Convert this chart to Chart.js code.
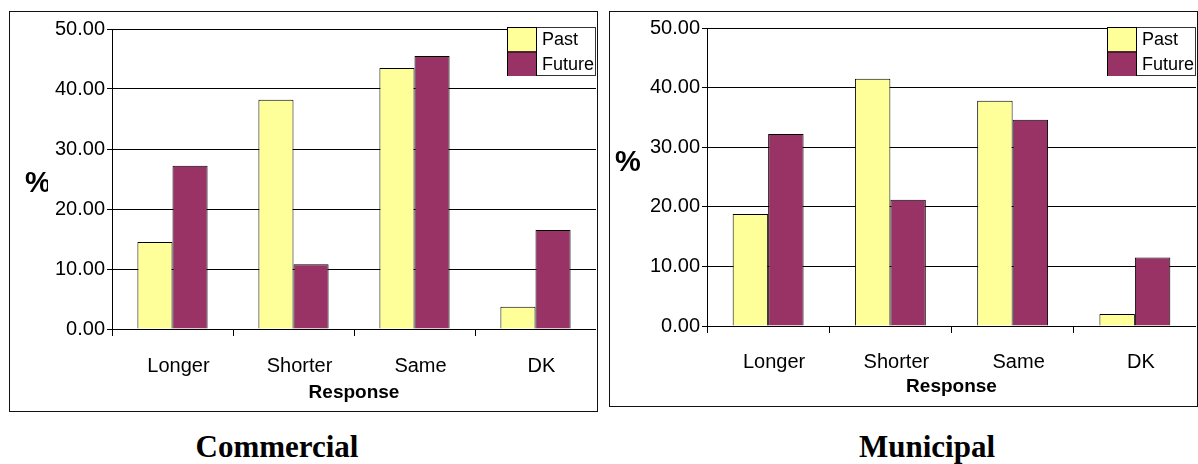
<!DOCTYPE html>
<html>
<head>
<meta charset="utf-8">
<script src="https://cdn.jsdelivr.net/npm/chart.js@4"></script>
<style>
  html, body { margin: 0; padding: 0; background: #fff; }
  body { position: relative; width: 1198px; height: 464px; overflow: hidden; }
  .frame { position: absolute; border: 1px solid #111; box-sizing: border-box; }
  .frame canvas { position: absolute; left: 0; top: 0; }
  .caption {
    position: absolute; width: 300px; top: 431px; text-align: center;
    font: bold 31px 'Liberation Serif', 'Times New Roman', serif; line-height: 31px; color: #000;
  }
</style>
</head>
<body>
<div class="frame" style="left:9px; top:11px; width:589px; height:401px;">
  <canvas id="commercial" width="586" height="399"></canvas>
</div>
<div class="frame" style="left:609px; top:11px; width:589px; height:396px;">
  <canvas id="municipal" width="586" height="394"></canvas>
</div>
<div class="caption" style="left:127px;">Commercial</div>
<div class="caption" style="left:777px;">Municipal</div>

<script>
// data
const categories = ['Longer', 'Shorter', 'Same', 'DK']
const seriesNames = ['Past', 'Future']
const commercialPast = [14.5, 38.2, 43.5, 3.7]
const commercialFuture = [27.2, 10.8, 45.5, 16.5]
const municipalPast = [18.8, 41.5, 37.8, 2.0]
const municipalFuture = [32.2, 21.2, 34.6, 11.5]
const yMin = 0
const yMax = 50
const yStep = 10
const xTitle = 'Response'
const yTitle = '%'

const seriesColors = ['#FFFF99', '#993366']
const sans = "'Liberation Sans', Arial, sans-serif"

// legend box in the top right corner of the plot, swatches stacked
const boxLegend = {
  id: 'boxLegend',
  afterDraw(chart, args, opts) {
    const ctx = chart.ctx
    const sets = chart.data.datasets
    const x0 = chart.chartArea.right - opts.width
    const y0 = opts.top
    const h = opts.rowHeight * sets.length
    ctx.save()
    ctx.fillStyle = '#fff'
    ctx.fillRect(x0, y0, opts.width, h)
    ctx.strokeStyle = '#333'
    ctx.lineWidth = 1
    ctx.strokeRect(x0 + 0.5, y0 + 0.5, opts.width - 1, h - 1)
    ctx.beginPath()
    ctx.rect(x0, y0, opts.width - 1, h)
    ctx.clip()
    sets.forEach((ds, i) => {
      const y = y0 + i * opts.rowHeight
      ctx.fillStyle = ds.backgroundColor
      ctx.fillRect(x0, y, opts.swatch, opts.rowHeight)
      ctx.strokeStyle = '#000'
      ctx.strokeRect(x0 + 0.5, y + 0.5, opts.swatch, opts.rowHeight)
      ctx.fillStyle = '#000'
      ctx.font = '18px ' + sans
      ctx.textBaseline = 'middle'
      ctx.fillText(ds.label, x0 + opts.swatch + 6, y + opts.rowHeight / 2 + 1)
    })
    ctx.restore()
  }
}

// horizontal "%" axis label, may be cut by the tick label area
const percentLabel = {
  id: 'percentLabel',
  afterDraw(chart, args, opts) {
    const ctx = chart.ctx
    ctx.save()
    ctx.beginPath()
    ctx.rect(0, 0, opts.clip, chart.height)
    ctx.clip()
    ctx.fillStyle = '#000'
    ctx.font = 'bold 29px ' + sans
    ctx.textBaseline = 'middle'
    ctx.fillText(yTitle, opts.x, opts.y)
    ctx.restore()
  }
}

function makeChart(id, past, future, o) {
  return new Chart(document.getElementById(id), {
    type: 'bar',
    data: {
      labels: categories,
      datasets: [
        { label: seriesNames[0], data: past, backgroundColor: seriesColors[0], borderColor: '#000', borderWidth: 1 },
        { label: seriesNames[1], data: future, backgroundColor: seriesColors[1], borderColor: '#000', borderWidth: 1 }
      ]
    },
    options: {
      responsive: false,
      animation: false,
      devicePixelRatio: 1,
      layout: { padding: { top: o.top, left: 0, right: 0, bottom: 0 } },
      datasets: {
        bar: {
          categoryPercentage: 0.58,
          barPercentage: 1
        }
      },
      plugins: {
        legend: { display: false },
        tooltip: { enabled: false },
        boxLegend: { width: 89, top: 15, rowHeight: 24.5, swatch: 29 },
        percentLabel: { x: o.pctX, y: o.pctY, clip: o.pctClip }
      },
      scales: {
        x: {
          afterFit: (s) => { s.height = o.xHeight },
          grid: { offset: true, drawOnChartArea: false, drawTicks: true, tickLength: 7, color: '#000' },
          border: { color: '#000', width: 1 },
          ticks: { color: '#000', font: { size: 20, family: sans }, padding: o.labelPad, labelOffset: 6 },
          title: {
            display: true, text: xTitle, color: '#000',
            font: { size: 19, weight: 'bold', family: sans },
            padding: { top: 0, bottom: o.titlePad }
          }
        },
        y: {
          min: yMin,
          max: yMax,
          afterFit: (s) => { s.width = o.yWidth },
          grid: { color: '#000', lineWidth: 1, tickLength: 5, tickColor: '#000' },
          border: { color: '#000', width: 1 },
          ticks: {
            stepSize: yStep,
            color: '#000',
            padding: 2,
            font: { size: 20, family: sans },
            callback: (v) => Number(v).toFixed(2)
          }
        }
      }
    },
    plugins: [boxLegend, percentLabel]
  })
}

makeChart('commercial', commercialPast, commercialFuture, {
  top: 17, xHeight: 82, yWidth: 102, labelPad: 18, titlePad: 7,
  pctX: 15, pctY: 172, pctClip: 38
})
makeChart('municipal', municipalPast, municipalFuture, {
  top: 16, xHeight: 80, yWidth: 97, labelPad: 17, titlePad: 8,
  pctX: 5, pctY: 151, pctClip: 60
})
</script>
</body>
</html>
